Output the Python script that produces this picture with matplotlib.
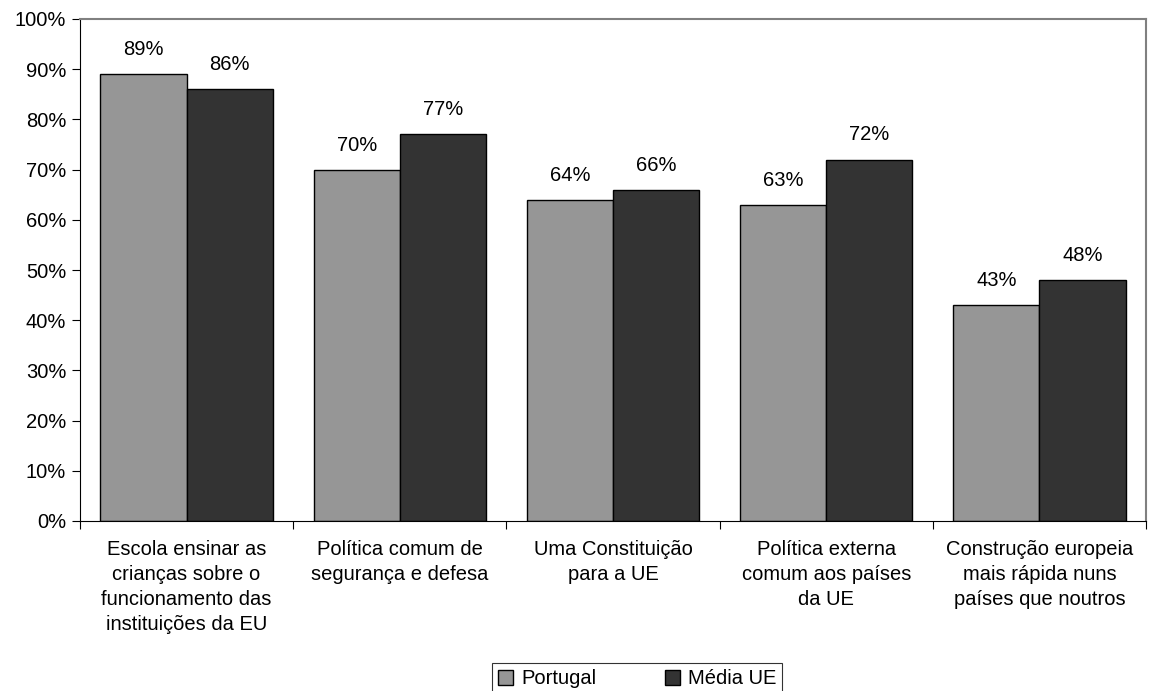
import numpy as np
import matplotlib
matplotlib.use("Agg")
import matplotlib.pyplot as plt
from matplotlib.ticker import PercentFormatter

plt.rcParams['font.family'] = ['Liberation Sans', 'DejaVu Sans']

categorias = [
    "Escola ensinar as\ncrianças sobre o\nfuncionamento das\ninstituições da EU",
    "Política comum de\nsegurança e defesa",
    "Uma Constituição\npara a UE",
    "Política externa\ncomum aos países\nda UE",
    "Construção europeia\nmais rápida nuns\npaíses que noutros",
]
portugal = [89, 70, 64, 63, 43]
media_ue = [86, 77, 66, 72, 48]

fs = 14.5
fig = plt.figure(figsize=(11.51, 6.91), dpi=100)
ax = fig.add_axes([80/1151, 1 - 521/691, (1146-80)/1151, (521-19)/691])

x = np.arange(len(categorias))
w = 0.404
b1 = ax.bar(x - w/2, portugal, w, color='#969696', edgecolor='black', linewidth=1, label='Portugal')
b2 = ax.bar(x + w/2, media_ue, w, color='#333333', edgecolor='black', linewidth=1, label='Média UE')

for bars, vals in [(b1, portugal), (b2, media_ue)]:
    for r, v in zip(bars, vals):
        ax.text(r.get_x() + r.get_width()/2, v + 3.0, f"{v}%", ha='center', va='bottom', fontsize=fs)

ax.set_xlim(-0.5, len(categorias) - 0.5)
ax.set_ylim(0, 100)
ax.set_yticks(range(0, 101, 10))
ax.yaxis.set_major_formatter(PercentFormatter(decimals=0))
ax.tick_params(axis='y', labelsize=fs, length=6, direction='out', pad=4)

ax.set_xticks(np.arange(-0.5, len(categorias), 1))
ax.set_xticklabels([])
ax.set_xticks(x, minor=True)
ax.set_xticklabels(categorias, minor=True, fontsize=fs, linespacing=1.4)
ax.tick_params(axis='x', which='major', length=6, direction='out')
ax.tick_params(axis='x', which='minor', length=0, pad=14)

for s in ['top', 'right']:
    ax.spines[s].set_color('#808080')
    ax.spines[s].set_linewidth(1.5)
for s in ['left', 'bottom']:
    ax.spines[s].set_color('black')

leg = fig.legend(loc='center', bbox_to_anchor=(637/1151, 1 - 679/691), ncol=2, fontsize=fs,
                 frameon=True, fancybox=False, edgecolor='black', handlelength=0.75, handleheight=0.75,
                 columnspacing=3.4, handletextpad=0.4, borderpad=0.3, borderaxespad=0)
leg.get_frame().set_linewidth(0.8)

fig.savefig('out.png', dpi=100)
